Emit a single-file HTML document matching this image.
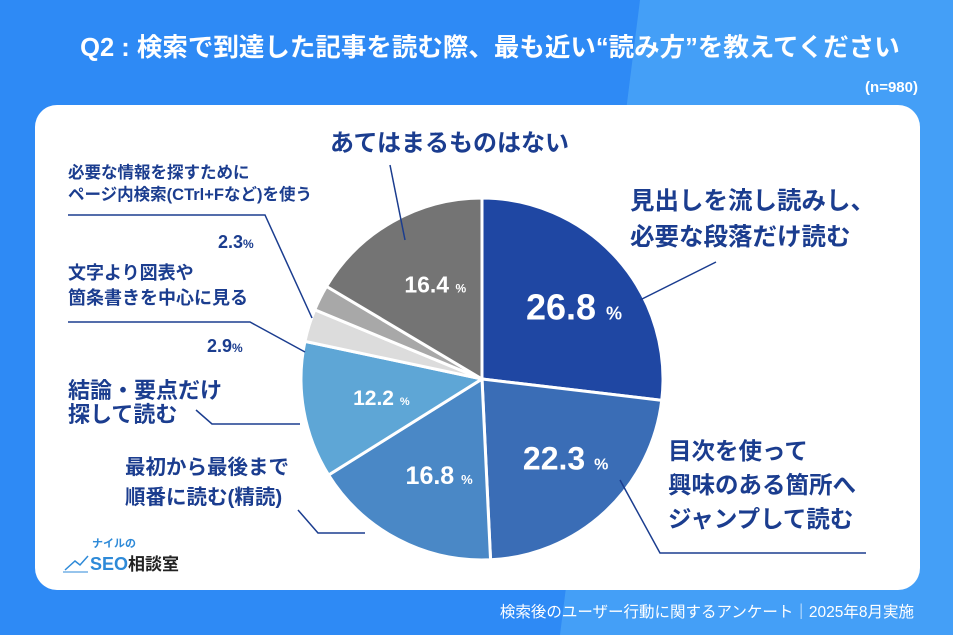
<!DOCTYPE html>
<html><head><meta charset="utf-8"><style>
body{margin:0;width:953px;height:635px;overflow:hidden;font-family:"Liberation Sans","Noto Sans CJK JP",sans-serif}
</style></head><body>
<svg width="953" height="635" viewBox="0 0 953 635" xmlns="http://www.w3.org/2000/svg" style="display:block;font-family:'Liberation Sans','Noto Sans CJK JP',sans-serif">
<rect x="0" y="0" width="953" height="635" fill="#2e8af5"/>
<polygon points="640,0 953,0 953,635 560,635" fill="#449ff7"/>
<text x="490" y="56" text-anchor="middle" font-size="25.5" font-weight="bold" fill="#fff">Q2 : 検索で到達した記事を読む際、最も近い“読み方”を教えてください</text>
<text x="918" y="92" text-anchor="end" font-size="15" font-weight="bold" fill="#fff">(n=980)</text>
<rect x="35" y="105" width="885" height="485" rx="22" fill="#fff"/>
<g id="pie"></g>
<g fill="#1b3d8f" font-weight="bold">
<text x="630" y="209" font-size="24.5">見出しを流し読みし、</text>
<text x="630" y="245" font-size="24.5">必要な段落だけ読む</text>
<text x="668" y="459" font-size="23.5">目次を使って</text>
<text x="668" y="493" font-size="23.5">興味のある箇所へ</text>
<text x="668" y="527" font-size="23.5">ジャンプして読む</text>
<text x="125" y="474" font-size="20.5">最初から最後まで</text>
<text x="125" y="504" font-size="20.5">順番に読む(精読)</text>
<text x="68" y="398" font-size="22">結論・要点だけ</text>
<text x="68" y="422" font-size="22">探して読む</text>
<text x="68" y="279" font-size="18">文字より図表や</text>
<text x="68" y="304" font-size="18">箇条書きを中心に見る</text>
<text x="68" y="178" font-size="16.5">必要な情報を探すために</text>
<text x="68" y="200" font-size="16.5">ページ内検索(CTrl+Fなど)を使う</text>
<text x="330" y="151" font-size="24">あてはまるものはない</text>
<text x="207" y="352" font-size="18">2.9<tspan font-size="12">%</tspan></text>
<text x="218" y="248" font-size="18">2.3<tspan font-size="12">%</tspan></text>
</g>
<g stroke="#1b3d8f" stroke-width="1.5" fill="none">
<polyline points="640,300 716,262"/>
<polyline points="620,480 660,553 866,553"/>
<polyline points="298,510 318,533 365,533"/>
<polyline points="300,424 212,424 196,410"/>
<polyline points="305,352 250,322 68,322"/>
<polyline points="312,318 265,215 68,215"/>
<polyline points="405,240 390,165"/>
</g>
<g>
<text x="92" y="547" font-size="11" font-weight="bold" fill="#2e8ad8">ナイルの</text>
<polyline points="65,570 75,561 80,565 88,556" stroke="#2e8ad8" stroke-width="1.5" fill="none"/>
<line x1="63" y1="572" x2="88" y2="572" stroke="#2e8ad8" stroke-width="1"/>
<text x="90" y="570" font-size="18" font-weight="bold" fill="#2e8ad8">SEO</text>
<text x="128" y="570" font-size="17" font-weight="bold" fill="#222">相談室</text>
</g>
<text x="914" y="617" text-anchor="end" font-size="15.5" fill="#fff">検索後のユーザー行動に関するアンケート｜2025年8月実施</text>
</svg>
<script>
const categories=["見出し流し読み","目次ジャンプ","精読","結論・要点","図表中心","ページ内検索","あてはまるものはない"];
const values=[26.8,22.3,16.8,12.2,2.9,2.3,16.4];
const colors=["#1f47a3","#3a6db6","#4a88c6","#5ea6d6","#dcdcdc","#a8a8a8","#747474"];
const valueLabels=["26.8","22.3","16.8","12.2","","","16.4"];
const fontSizes=[36,32,25,21,0,0,23];
const cx=482,cy=379,r=181;
const g=document.getElementById('pie');
const ns="http://www.w3.org/2000/svg";
const total=values.reduce((a,b)=>a+b,0);
let a0=0;
values.forEach((v,i)=>{
  const a1=a0+v/total*2*Math.PI;
  const x0=cx+r*Math.sin(a0),y0=cy-r*Math.cos(a0),x1=cx+r*Math.sin(a1),y1=cy-r*Math.cos(a1);
  const p=document.createElementNS(ns,'path');
  p.setAttribute('d',`M${cx},${cy}L${x0},${y0}A${r},${r} 0 ${a1-a0>Math.PI?1:0} 1 ${x1},${y1}Z`);
  p.setAttribute('fill',colors[i]);p.setAttribute('stroke','#fff');p.setAttribute('stroke-width','3');
  
  
  g.appendChild(p);
  if(valueLabels[i]){
    const m=(a0+a1)/2,rr=r*0.6;
    const t=document.createElementNS(ns,'text');
    t.setAttribute('x',cx+rr*Math.sin(m)+fontSizes[i]*0.3);t.setAttribute('y',cy-rr*Math.cos(m)+fontSizes[i]*0.35);
    t.setAttribute('text-anchor','middle');t.setAttribute('fill','#fff');t.setAttribute('font-weight','bold');
    t.setAttribute('font-size',fontSizes[i]);
    t.innerHTML=valueLabels[i]+' <tspan font-size="'+Math.round(fontSizes[i]*0.5)+'">%</tspan>';
    
    
    g.appendChild(t);
  }
  a0=a1;
});
</script>
</body></html>
